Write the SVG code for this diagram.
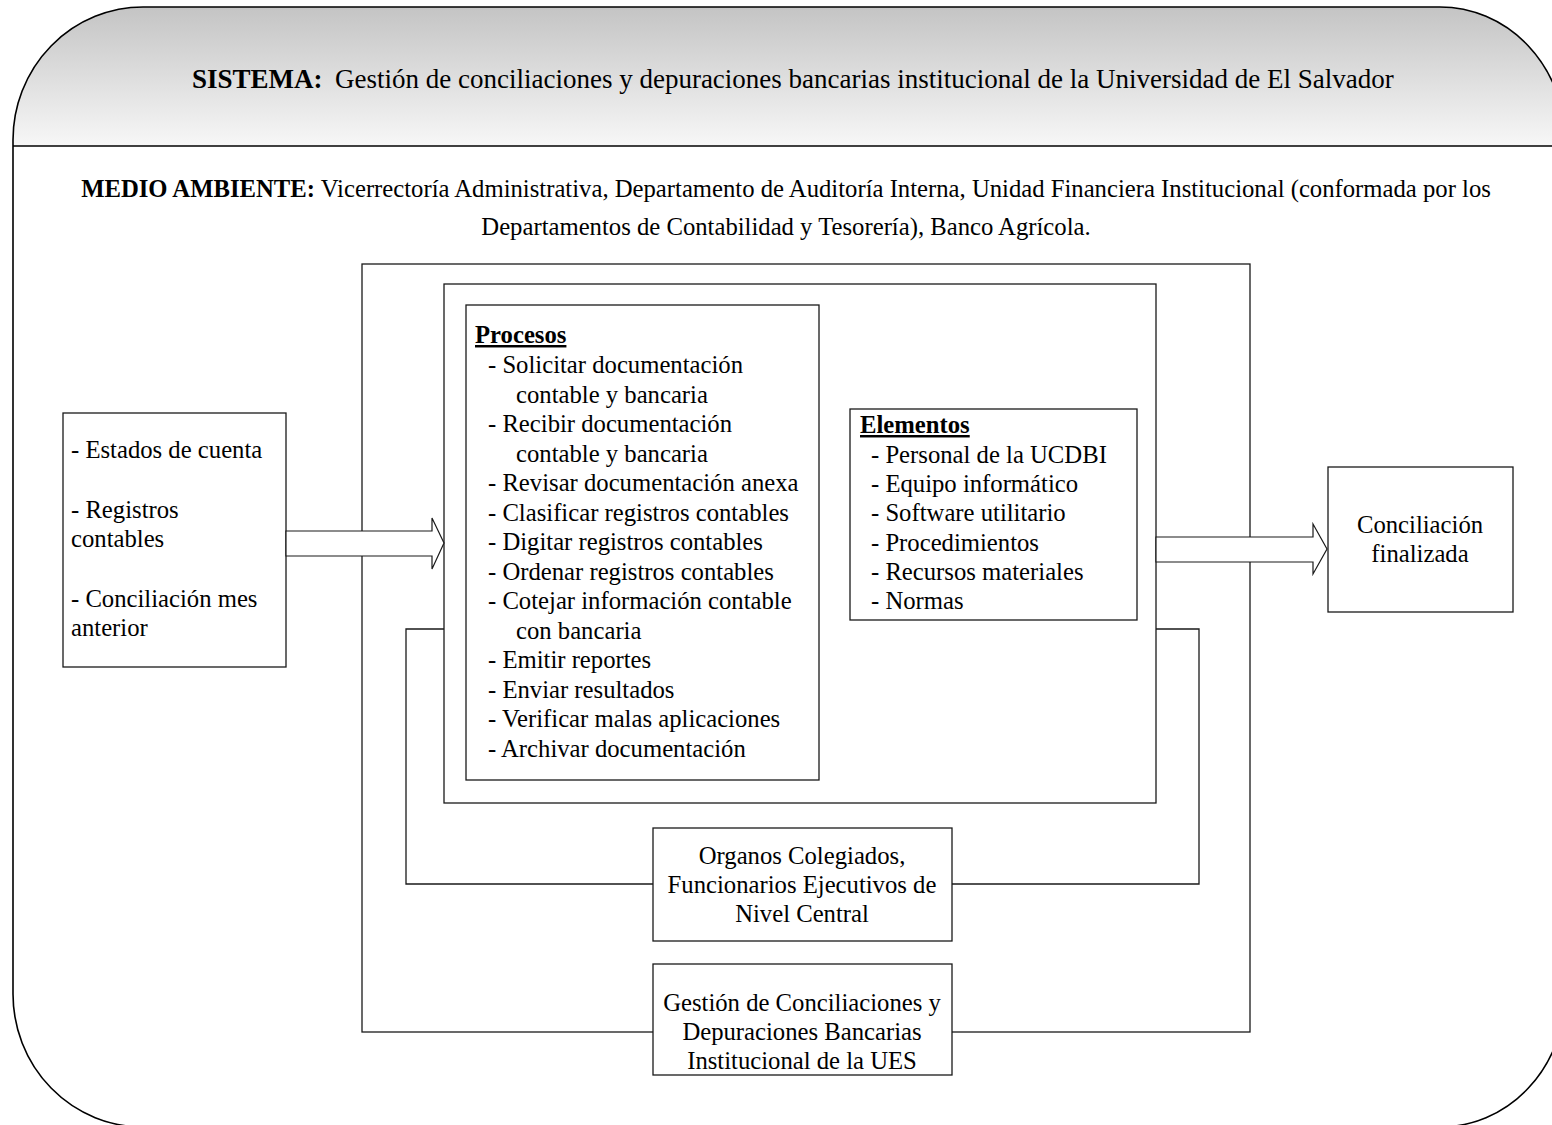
<svg xmlns="http://www.w3.org/2000/svg" width="1552" height="1125" viewBox="0 0 1552 1125">
  <defs>
    <linearGradient id="headGrad" x1="0" y1="0" x2="0" y2="1">
      <stop offset="0" stop-color="#c4c4c4"/>
      <stop offset="1" stop-color="#f7f7f7"/>
    </linearGradient>
    <style>
      text { font-family: "Liberation Serif", "Times New Roman", serif; fill: #000; }
      .t { font-size: 24.7px; }
      .title { font-size: 27px; }
      .b { font-weight: bold; }
      .u { text-decoration: underline; }
      .c { text-anchor: middle; }
      .box { fill: #fff; stroke: #1a1a1a; stroke-width: 1.3; }
      .wire { fill: none; stroke: #1a1a1a; stroke-width: 1.3; }
      .arrow { fill: #fff; stroke: #1a1a1a; stroke-width: 1.2; stroke-linejoin: miter; }
    </style>
  </defs>

  <!-- rounded frame with shaded header band -->
  <g id="frame">
    <path d="M143,7 H1440 A125,133 0 0 1 1565,140 V994 A125,133 0 0 1 1440,1127 H143 A130,133 0 0 1 13,994 V140 A130,133 0 0 1 143,7 Z" fill="#fff"/>
    <path d="M13,146 V140 A130,133 0 0 1 143,7 H1440 A125,133 0 0 1 1565,140 V146 Z" fill="url(#headGrad)"/>
    <path d="M143,7 H1440 A125,133 0 0 1 1565,140 V994 A125,133 0 0 1 1440,1127 H143 A130,133 0 0 1 13,994 V140 A130,133 0 0 1 143,7 Z" fill="none" stroke="#000" stroke-width="1.6"/>
    <line x1="13" y1="146" x2="1565" y2="146" stroke="#000" stroke-width="1.6"/>
  </g>

  <g id="title">
    <text class="title b" x="192" y="88">SISTEMA:</text>
    <text class="title" x="335" y="88">Gestión de conciliaciones y depuraciones bancarias institucional de la Universidad de El Salvador</text>
  </g>

  <g id="environment">
    <text class="t c" x="786" y="197"><tspan class="b">MEDIO AMBIENTE:</tspan> Vicerrectoría Administrativa, Departamento de Auditoría Interna, Unidad Financiera Institucional (conformada por los</text>
    <text class="t c" x="786" y="235">Departamentos de Contabilidad y Tesorería), Banco Agrícola.</text>
  </g>

  <!-- system boundary boxes -->
  <g id="system-box">
    <rect class="box" x="362" y="264" width="888" height="768"/>
  </g>
  <g id="core-box">
    <rect class="box" x="444" y="284" width="712" height="519"/>
  </g>

  <!-- feedback loop connectors -->
  <g id="connectors">
    <polyline class="wire" points="444,629 406,629 406,884 653,884"/>
    <polyline class="wire" points="1156,629 1199,629 1199,884 952,884"/>
  </g>

  <g id="procesos">
    <rect class="box" x="466" y="305" width="353" height="475"/>
    <text class="t b u" x="475" y="343">Procesos</text>
    <text class="t" x="488" y="373">- Solicitar documentación</text>
    <text class="t" x="516" y="402.5">contable y bancaria</text>
    <text class="t" x="488" y="432">- Recibir documentación</text>
    <text class="t" x="516" y="461.5">contable y bancaria</text>
    <text class="t" x="488" y="491">- Revisar documentación anexa</text>
    <text class="t" x="488" y="520.5">- Clasificar registros contables</text>
    <text class="t" x="488" y="550">- Digitar registros contables</text>
    <text class="t" x="488" y="579.5">- Ordenar registros contables</text>
    <text class="t" x="488" y="609">- Cotejar información contable</text>
    <text class="t" x="516" y="638.5">con bancaria</text>
    <text class="t" x="488" y="668">- Emitir reportes</text>
    <text class="t" x="488" y="697.5">- Enviar resultados</text>
    <text class="t" x="488" y="727">- Verificar malas aplicaciones</text>
    <text class="t" x="488" y="756.5">- Archivar documentación</text>
  </g>

  <g id="elementos">
    <rect class="box" x="850" y="409" width="287" height="211"/>
    <text class="t b u" x="860" y="433">Elementos</text>
    <text class="t" x="871" y="463">- Personal de la UCDBI</text>
    <text class="t" x="871" y="492">- Equipo informático</text>
    <text class="t" x="871" y="521">- Software utilitario</text>
    <text class="t" x="871" y="550.5">- Procedimientos</text>
    <text class="t" x="871" y="580">- Recursos materiales</text>
    <text class="t" x="871" y="609">- Normas</text>
  </g>

  <g id="entradas">
    <rect class="box" x="63" y="413" width="223" height="254"/>
    <text class="t" x="71" y="458">- Estados de cuenta</text>
    <text class="t" x="71" y="518">- Registros</text>
    <text class="t" x="71" y="547">contables</text>
    <text class="t" x="71" y="607">- Conciliación mes</text>
    <text class="t" x="71" y="636">anterior</text>
  </g>

  <g id="salida">
    <rect class="box" x="1328" y="467" width="185" height="145"/>
    <text class="t c" x="1420" y="533">Conciliación</text>
    <text class="t c" x="1420" y="562">finalizada</text>
  </g>

  <g id="organos">
    <rect class="box" x="653" y="828" width="299" height="113"/>
    <text class="t c" x="802" y="864">Organos Colegiados,</text>
    <text class="t c" x="802" y="893">Funcionarios Ejecutivos de</text>
    <text class="t c" x="802" y="922">Nivel Central</text>
  </g>

  <g id="gestion">
    <rect class="box" x="653" y="964" width="299" height="111"/>
    <text class="t c" x="802" y="1011">Gestión de Conciliaciones y</text>
    <text class="t c" x="802" y="1040">Depuraciones Bancarias</text>
    <text class="t c" x="802" y="1069">Institucional de la UES</text>
  </g>

  <!-- input / output block arrows -->
  <g id="flow-arrows">
    <polygon class="arrow" points="286,531 432,531 432,518 444,543 432,569 432,556 286,556"/>
    <polygon class="arrow" points="1156,537 1313,537 1313,524 1327,549 1313,574 1313,562 1156,562"/>
  </g>
</svg>
